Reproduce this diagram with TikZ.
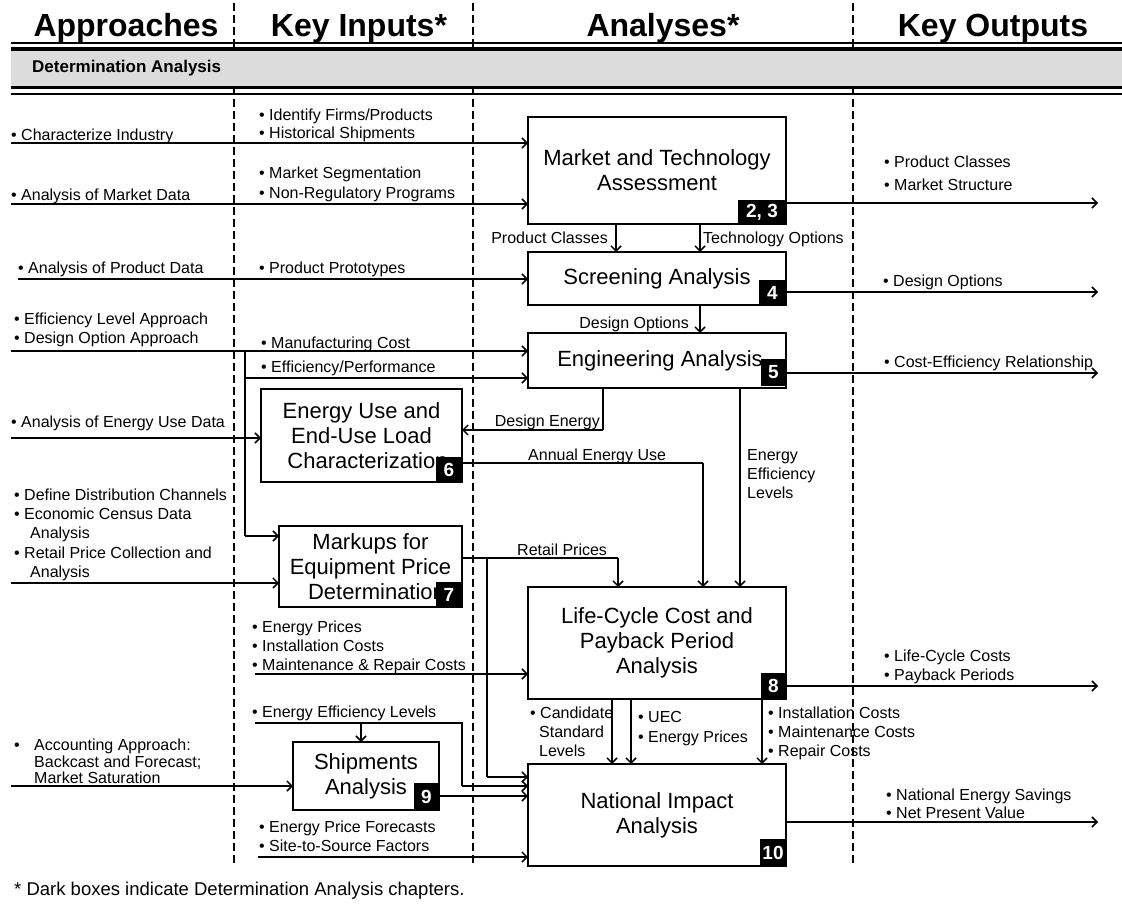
\documentclass[tikz,border=0pt]{standalone}
\usepackage{fontspec}
\setmainfont{Liberation Sans}
\usetikzlibrary{arrows.meta}
\definecolor{bandgray}{RGB}{220,220,220}

\begin{document}
\begin{tikzpicture}[x=1pt,y=-1pt,
  hdr/.style={font=\fontsize{32}{36}\selectfont\bfseries, anchor=base, inner sep=0pt},
  sm/.style={font=\fontsize{16}{19}\selectfont, anchor=west, inner sep=0pt, text height=11.5pt, text depth=0pt},
  smr/.style={sm, anchor=east},
  abox/.style={draw, line width=1.3pt, fill=white, inner sep=0pt, outer sep=0pt, align=center,
               font=\fontsize{22}{24.8}\selectfont},
  tag/.style={fill=black, text=white, font=\fontsize{19}{19}\selectfont\bfseries,
              inner sep=0pt, outer sep=0pt, anchor=south east},
  arr/.style={line width=2.6pt, -{Straight Barb[length=5pt,width=10pt,line width=1.5pt]}},
  wire/.style={line width=1.3pt},
  sep/.style={line width=2.2pt, dash pattern=on 8pt off 4pt},
]
\useasboundingbox (0,0) rectangle (1122,904);

% column separators
\draw[sep] (234,3) -- (234,865);
\draw[sep] (473,3) -- (473,865);
\draw[sep] (853,3) -- (853,865);

% banner with double rules
\fill[bandgray] (11,51) rectangle (1122,86);
\draw[line width=2.6pt] (11,43) -- (1122,43);
\draw[line width=3.5pt] (11,49.2) -- (1122,49.2);
\draw[line width=3.5pt] (11,87.7) -- (1122,87.7);
\draw[line width=2.4pt] (11,93.8) -- (1122,93.8);
\node[font=\fontsize{17}{20}\selectfont\bfseries, anchor=base west, inner sep=0pt] (band) at (32,73) {Determination Analysis};

% column headings
\node[hdr] (hA) at (126,37) {Approaches};
\node[hdr] (hK) at (359,37) {Key Inputs*};
\node[hdr] (hN) at (663,37) {Analyses*};
\node[hdr] (hO) at (993,37) {Key Outputs};

% analysis boxes
\node[abox, minimum width=258pt, minimum height=107pt] (mta) at (657,170.5) {Market and Technology\\Assessment};
\node[abox, minimum width=258pt, minimum height=53pt] (scr) at (657,278.5) {Screening Analysis};
\node[abox, minimum width=258pt, minimum height=55pt] (eng) at (657,360.5) {\hspace*{6pt}Engineering Analysis};
\node[abox, minimum width=201pt, minimum height=93pt] (eu) at (361.5,435.5) {Energy Use and\\End-Use Load\\\hspace*{12pt}Characterization};
\node[abox, minimum width=183pt, minimum height=81pt] (mk) at (370.5,566.5) {Markups for\\Equipment Price\\\hspace*{12pt}Determination};
\node[abox, minimum width=258pt, minimum height=112pt] (lcc) at (657,643) {Life-Cycle Cost and\\Payback Period\\Analysis};
\node[abox, minimum width=146pt, minimum height=68pt] (shp) at (366,776) {Shipments\\Analysis};
\node[abox, minimum width=258pt, minimum height=102pt] (nia) at (657,815) {National Impact\\Analysis};

% chapter tags
\node[tag, minimum width=48pt, minimum height=24pt] (t23) at (mta.south east) {2, 3};
\node[tag, minimum width=27pt, minimum height=25pt] (t4) at (scr.south east) {4};
\node[tag, minimum width=25pt, minimum height=27pt] (t5) at ([yshift=2pt]eng.south east) {5};
\node[tag, minimum width=26pt, minimum height=25pt] (t6) at (eu.south east) {6};
\node[tag, minimum width=26pt, minimum height=25pt] (t7) at (mk.south east) {7};
\node[tag, minimum width=25pt, minimum height=26pt] (t8) at (lcc.south east) {8};
\node[tag, minimum width=25pt, minimum height=27pt] (t9) at (shp.south east) {9};
\node[tag, minimum width=26pt, minimum height=27pt] (t10) at (nia.south east) {10};

% approaches
\node[sm] (ap1) at (11,135) {• Characterize Industry};
\node[sm] (ap2) at (11,195) {• Analysis of Market Data};
\node[sm] (ap3) at (18,268) {• Analysis of Product Data};
\node[sm] (ap4) at (14,319) {• Efficiency Level Approach};
\node[sm] (ap5) at (14,338) {• Design Option Approach};
\node[sm] (ap6) at (11,422) {• Analysis of Energy Use Data};
\node[sm] (ap7) at (14,495) {• Define Distribution Channels};
\node[sm] (ap8) at (14,514) {• Economic Census Data};
\node[sm] (ap9) at (30,533) {Analysis};
\node[sm] (ap10) at (14,553) {• Retail Price Collection and};
\node[sm] (ap11) at (30,572) {Analysis};
\node[sm] (ap12) at (14,745) {•};
\node[sm] (ap13) at (34,745) {Accounting Approach:};
\node[sm] (ap14) at (34,762) {Backcast and Forecast;};
\node[sm] (ap15) at (34,778) {Market Saturation};

% key inputs
\node[sm] (in1) at (259,115) {• Identify Firms/Products};
\node[sm] (in2) at (259,133) {• Historical Shipments};
\node[sm] (in3) at (259,173) {• Market Segmentation};
\node[sm] (in4) at (259,193) {• Non-Regulatory Programs};
\node[sm] (in5) at (259,268) {• Product Prototypes};
\node[sm] (in6) at (261,343) {• Manufacturing Cost};
\node[sm] (in7) at (261,367) {• Efficiency/Performance};
\node[sm] (in8) at (252,627) {• Energy Prices};
\node[sm] (in9) at (252,646) {• Installation Costs};
\node[sm] (in10) at (252,665) {• Maintenance \& Repair Costs};
\node[sm] (in11) at (252,712) {• Energy Efficiency Levels};
\node[sm] (in12) at (259,827) {• Energy Price Forecasts};
\node[sm] (in13) at (259,846) {• Site-to-Source Factors};

% key outputs
\node[sm] (o1) at (884,162) {• Product Classes};
\node[sm] (o2) at (884,185) {• Market Structure};
\node[sm] (o3) at (883,281) {• Design Options};
\node[sm] (o4) at (884,362) {• Cost-Efficiency Relationship};
\node[sm] (o5) at (884,656) {• Life-Cycle Costs};
\node[sm] (o6) at (884,675) {• Payback Periods};
\node[sm] (o7) at (886,795) {• National Energy Savings};
\node[sm] (o8) at (886,813) {• Net Present Value};

% labels between analyses
\node[smr] (lPC) at (608,238) {Product Classes};
\node[sm] (lTO) at (703,238) {Technology Options};
\node[smr] (lDO) at (689,323) {Design Options};
\node[smr] (lDE) at (600,421) {Design Energy};
\node[sm] (lAE) at (528,455) {Annual Energy Use};
\node[sm] (lEL1) at (747,455) {Energy};
\node[sm] (lEL2) at (747,474) {Efficiency};
\node[sm] (lEL3) at (747,493) {Levels};
\node[sm] (lRP) at (517,550) {Retail Prices};
\node[sm] (lCS1) at (530,713) {• Candidate};
\node[sm] (lCS2) at (539,732) {Standard};
\node[sm] (lCS3) at (539,751) {Levels};
\node[sm] (lUE1) at (638,717) {• UEC};
\node[sm] (lUE2) at (638,737) {• Energy Prices};
\node[sm] (lIC1) at (768,713) {• Installation Costs};
\node[sm] (lIC2) at (768,732) {• Maintenance Costs};
\node[sm] (lIC3) at (768,751) {• Repair Costs};

% footnote
\node[font=\fontsize{18.5}{21}\selectfont, anchor=base west, inner sep=0pt] (foot) at (14,895)
  {* Dark boxes indicate Determination Analysis chapters.};

% inputs from the left
\coordinate (s1) at (11,143);
\coordinate (s2) at (11,204);
\coordinate (s3) at (18,279);
\coordinate (s4) at (11,351);
\coordinate (s6) at (11,438);
\coordinate (s7) at (11,583);
\coordinate (s8) at (255,674);
\coordinate (s12) at (11,786);
\coordinate (s13) at (258,857);
\draw[arr] (s1) -- (s1 -| mta.west);
\draw[arr] (s2) -- (s2 -| mta.west);
\draw[arr] (s3) -- (s3 -| scr.west);
\draw[arr] (s4) -- (s4 -| eng.west);
\draw[arr] (s6) -- (s6 -| eu.west);
\draw[arr] (s7) -- (s7 -| mk.west);
\draw[arr] (s8) -- (s8 -| lcc.west);
\draw[arr] (s12) -- (s12 -| shp.west);
\draw[arr] (s13) -- (s13 -| nia.west);

% bus feeding engineering and markups
\coordinate (b1) at (245,351);
\coordinate (b2) at (245,536);
\coordinate (b3) at (245,378);
\draw[wire] (b1) -- (b2);
\draw[arr] (b2) -- (b2 -| mk.west);
\draw[arr] (b3) -- (b3 -| eng.west);

% outputs to the right
\coordinate (e1) at (1098,203);
\coordinate (e2) at (1098,292);
\coordinate (e3) at (1098,373);
\coordinate (e4) at (1098,686);
\coordinate (e5) at (1098,822);
\draw[arr] (e1 -| mta.east) -- (e1);
\draw[arr] (e2 -| scr.east) -- (e2);
\draw[arr] (e3 -| eng.east) -- (e3);
\draw[arr] (e4 -| lcc.east) -- (e4);
\draw[arr] (e5 -| nia.east) -- (e5);

% market assessment to screening to engineering
\coordinate (vPC) at (616,0);
\coordinate (vTO) at (700,0);
\draw[arr] (vPC |- mta.south) -- (vPC |- scr.north);
\draw[arr] (vTO |- mta.south) -- (vTO |- scr.north);
\draw[arr] (vTO |- scr.south) -- (vTO |- eng.north);

% design energy
\coordinate (deC) at (603,430);
\draw[wire] (deC |- eng.south) -- (deC);
\draw[arr] (deC) -- (deC -| eu.east);

% annual energy use
\coordinate (aeC) at (703,463);
\draw[wire] (aeC -| eu.east) -- (aeC);
\draw[arr] (aeC) -- (aeC |- lcc.north);

% energy efficiency levels
\coordinate (vEL) at (740,0);
\draw[arr] (vEL |- eng.south) -- (vEL |- lcc.north);

% retail prices and branch to national impact
\coordinate (rpC) at (618,558);
\coordinate (brT) at (487,558);
\coordinate (brB) at (487,777);
\draw[wire] (rpC -| mk.east) -- (rpC);
\draw[arr] (rpC) -- (rpC |- lcc.north);
\draw[wire] (brT) -- (brB);
\draw[arr] (brB) -- (brB -| nia.west);

% energy efficiency levels input to shipments and national impact
\coordinate (elA) at (255,723);
\coordinate (elB) at (462,723);
\coordinate (elC) at (462,786);
\coordinate (shT) at (361,723);
\draw[wire] (elA) -- (elB) -- (elC);
\draw[arr] (elC) -- (elC -| nia.west);
\draw[arr] (shT) -- (shT |- shp.north);

% shipments to national impact
\coordinate (shO) at (0,796);
\draw[arr] (shO -| shp.east) -- (shO -| nia.west);

% life-cycle cost to national impact
\coordinate (vCS) at (612,0);
\coordinate (vUE) at (631,0);
\coordinate (vIC) at (762,0);
\draw[arr] (vCS |- lcc.south) -- (vCS |- nia.north);
\draw[arr] (vUE |- lcc.south) -- (vUE |- nia.north);
\draw[arr] (vIC |- lcc.south) -- (vIC |- nia.north);

\end{tikzpicture}
\end{document}
